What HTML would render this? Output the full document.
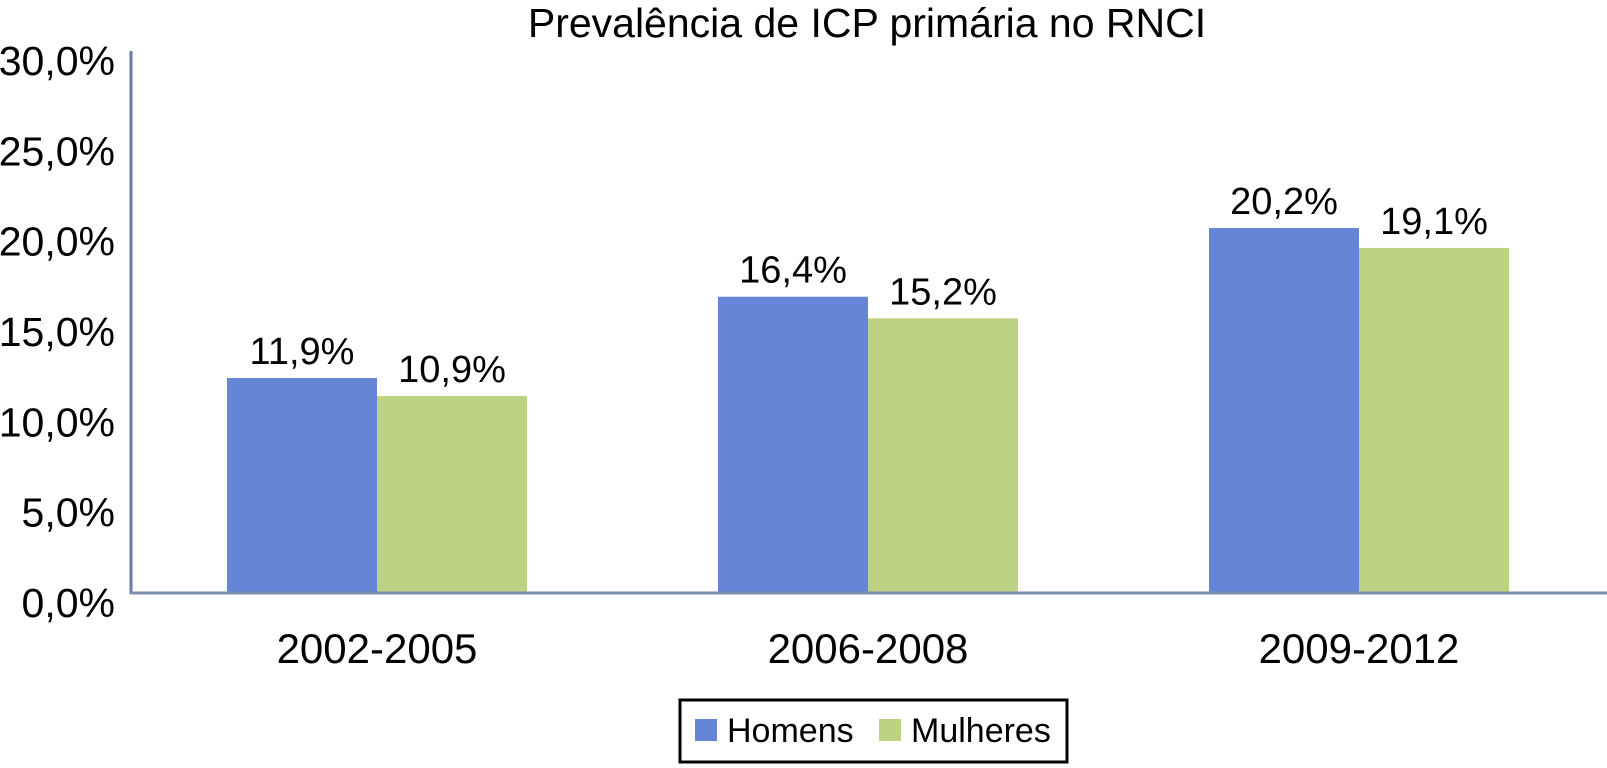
<!DOCTYPE html>
<html><head><meta charset="utf-8"><style>
body{margin:0;background:#fff;}
svg{display:block;font-family:"Liberation Sans",sans-serif;}
</style></head><body>
<svg id="chart" width="1607" height="768">
<text x="867" y="37" font-size="41" text-anchor="middle" fill="#000">Prevalência de ICP primária no RNCI</text>
<g id="ylabels"></g><g id="bars"></g><g id="xlabels"></g>
<line x1="131" y1="51" x2="131" y2="594" stroke="#6a7ab0" stroke-width="3"/>
<line x1="130" y1="593" x2="1607" y2="593" stroke="#7d8db3" stroke-width="3"/>
<g>
<rect x="680" y="700" width="387" height="62" fill="#fff" stroke="#000" stroke-width="3"/>
<rect x="695" y="719" width="22" height="22" fill="#6585d6"/>
<text x="727" y="742" font-size="34">Homens</text>
<rect x="879" y="719" width="22" height="22" fill="#bcd282"/>
<text x="911" y="742" font-size="34">Mulheres</text>
</g>
</svg>
<script>
const categories=["2002-2005","2006-2008","2009-2012"];
const homens=[11.9,16.4,20.2];
const mulheres=[10.9,15.2,19.1];
const homensLabels=["11,9%","16,4%","20,2%"];
const mulheresLabels=["10,9%","15,2%","19,1%"];
const yTicks=[0,5,10,15,20,25,30];
const yTickLabels=["0,0%","5,0%","10,0%","15,0%","20,0%","25,0%","30,0%"];
const NS="http://www.w3.org/2000/svg";
const y0=593,yTop=51,yMax=30;
function yScale(v){return y0-(v/yMax)*(y0-yTop);}
function xCenter(i){return 377+i*491;}
const barW=150;
const yl=document.getElementById('ylabels');
yTicks.forEach((t,i)=>{
 const el=document.createElementNS(NS,'text');
 el.setAttribute('x',115);el.setAttribute('y',yScale(t)+24);
 el.setAttribute('font-size','41');el.setAttribute('text-anchor','end');
 el.textContent=yTickLabels[i];
 
 
 yl.appendChild(el);
});
const bars=document.getElementById('bars');
function addBar(v,lab,x,color,name){
 const r=document.createElementNS(NS,'rect');
 r.setAttribute('x',x);r.setAttribute('y',yScale(v));
 r.setAttribute('width',barW);r.setAttribute('height',y0-yScale(v));
 r.setAttribute('fill',color);
 
 
 bars.appendChild(r);
 const t=document.createElementNS(NS,'text');
 t.setAttribute('x',x+barW/2);t.setAttribute('y',yScale(v)-14);
 t.setAttribute('font-size','38');t.setAttribute('text-anchor','middle');
 t.textContent=lab;
 
 
 bars.appendChild(t);
}
const xl=document.getElementById('xlabels');
categories.forEach((c,i)=>{
 const cx=xCenter(i);
 addBar(homens[i],homensLabels[i],cx-barW,'#6585d6','bar-homens-'+c);
 addBar(mulheres[i],mulheresLabels[i],cx,'#bcd282','bar-mulheres-'+c);
 const t=document.createElementNS(NS,'text');
 t.setAttribute('x',cx);t.setAttribute('y',663);
 t.setAttribute('font-size','42');t.setAttribute('text-anchor','middle');
 t.textContent=c;
 
 
 xl.appendChild(t);
});
</script>
</body></html>
